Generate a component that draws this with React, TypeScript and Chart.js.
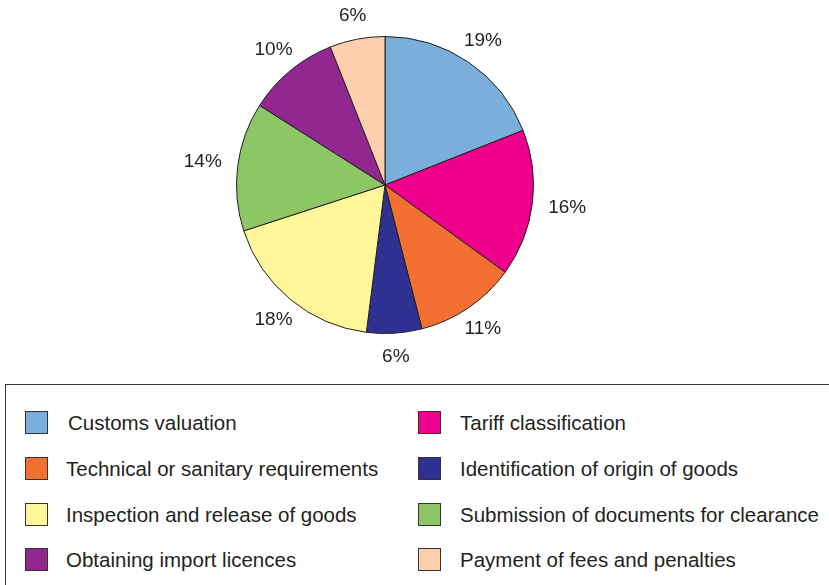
import React, { useEffect, useRef } from "react";
import { Chart, registerables } from "chart.js";

Chart.register(...registerables);

const categories = [
  "Customs valuation",
  "Tariff classification",
  "Technical or sanitary requirements",
  "Identification of origin of goods",
  "Inspection and release of goods",
  "Submission of documents for clearance",
  "Obtaining import licences",
  "Payment of fees and penalties",
];
const values = [19, 16, 11, 6, 18, 14, 10, 6];
const colors = ["#7aaedb", "#ec008c", "#f37032", "#2e3192", "#fff799", "#8cc665", "#92278f", "#fdcfac"];
// legend rows: [left, right] pairs by index
const legendRows = [
  [0, 1],
  [2, 3],
  [4, 5],
  [6, 7],
];

const TEXT = "#231f20";
const FONT = '"Liberation Sans", Arial, Helvetica, sans-serif';

const labelPlugin = {
  id: "outerLabels",
  afterDatasetsDraw(chart: any) {
    const ctx = chart.ctx;
    const meta = chart.getDatasetMeta(0);
    const ds = chart.data.datasets[0];
    ctx.save();
    ctx.fillStyle = TEXT;
    ctx.font = `19px ${FONT}`;
    ctx.textAlign = "center";
    ctx.textBaseline = "middle";
    meta.data.forEach((arc: any, i: number) => {
      const { x, y, startAngle, endAngle, outerRadius } = arc.getProps(
        ["x", "y", "startAngle", "endAngle", "outerRadius"],
        true
      );
      const text = `${ds.data[i]}%`;
      const mid = (startAngle + endAngle) / 2;
      const c = Math.cos(mid);
      const s = Math.sin(mid);
      const hw = ctx.measureText(text).width / 2;
      const hh = 8;
      const t = Math.min(hw / Math.max(Math.abs(c), 1e-6), hh / Math.max(Math.abs(s), 1e-6));
      const r = outerRadius + 16 + t;
      ctx.fillText(text, x + c * r, y + s * r);
    });
    ctx.restore();
  },
};

export default function App() {
  const ref = useRef<HTMLCanvasElement | null>(null);
  useEffect(() => {
    if (!ref.current) return;
    const chart = new Chart(ref.current, {
      type: "pie",
      data: {
        labels: categories,
        datasets: [
          {
            data: values,
            backgroundColor: colors,
            borderColor: TEXT,
            borderWidth: 1,
          },
        ],
      },
      options: {
        animation: false,
        responsive: false,
        maintainAspectRatio: false,
        layout: { padding: { left: 236, right: 295, top: 36, bottom: 46 } },
        plugins: {
          legend: { display: false },
          tooltip: { enabled: false },
        },
      },
      plugins: [labelPlugin],
    });
    return () => chart.destroy();
  }, []);

  const rowTop = [411, 457, 503, 548];
  return (
    <div
      style={{
        position: "absolute",
        left: 0,
        top: 0,
        width: 829,
        height: 585,
        background: "#fff",
        overflow: "hidden",
        fontFamily: FONT,
      }}
    >
      <canvas ref={ref} width={829} height={380} style={{ position: "absolute", left: 0, top: 0 }} />
      <div
        style={{
          position: "absolute",
          left: 5,
          top: 384,
          width: 840,
          height: 220,
          border: "1px solid #3a3a3a",
          boxSizing: "border-box",
        }}
      />
      {legendRows.map((pair, ri) =>
        pair.map((ci, col) => (
          <React.Fragment key={`${ri}-${col}`}>
            <div
              style={{
                position: "absolute",
                left: col === 0 ? 25 : 418,
                top: rowTop[ri],
                width: 23,
                height: 23,
                boxSizing: "border-box",
                border: "1px solid #333",
                background: colors[ci],
              }}
            />
            <div
              style={{
                position: "absolute",
                left: col === 0 ? (ri === 0 ? 68 : 66) : 460,
                top: rowTop[ri] + 11.5 - 12,
                height: 24,
                lineHeight: "24px",
                fontSize: 20.5,
                color: TEXT,
                whiteSpace: "nowrap",
              }}
            >
              {categories[ci]}
            </div>
          </React.Fragment>
        ))
      )}
    </div>
  );
}
